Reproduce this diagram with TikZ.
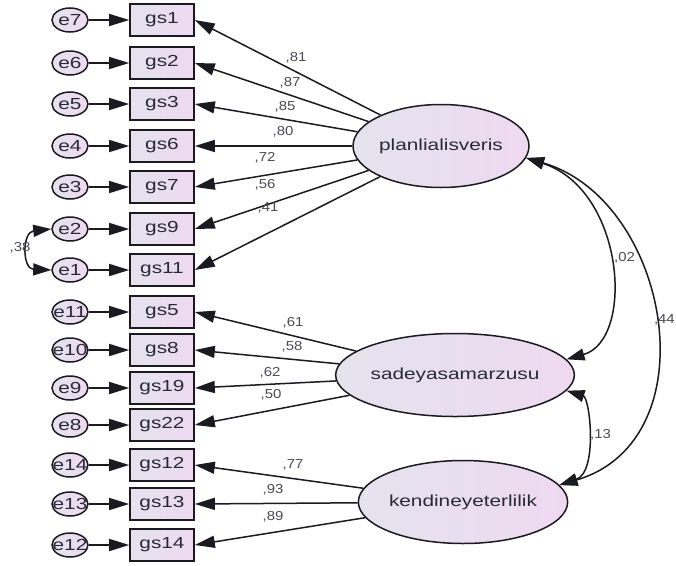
\documentclass[tikz,border=0pt]{standalone}
\usepackage{fontspec}
\setmainfont{Liberation Sans}
\newfontfamily\itemfont[FakeStretch=1.3]{Liberation Sans}
\newfontfamily\coeffont[FakeStretch=1.15]{Liberation Sans}
\usetikzlibrary{arrows.meta,shapes.geometric}

\definecolor{linec}{HTML}{1A1A20}
\definecolor{txtc}{HTML}{2A2A36}
\definecolor{coefc}{HTML}{4A4A55}
\definecolor{fillL}{HTML}{E4E3EE}
\definecolor{fillR}{HTML}{EFD9F1}

\begin{document}
\begin{tikzpicture}[x=1pt,y=-1pt,
  item/.style={draw=linec, line width=1.6pt, left color=fillL, right color=fillR,
    minimum width=64pt, minimum height=32pt, inner sep=0pt,
    font=\itemfont\fontsize{16}{16}\selectfont, text=txtc},
  err/.style={ellipse, draw=linec, line width=1.5pt, left color=fillL, right color=fillR,
    minimum width=36pt, minimum height=24pt, inner sep=0pt,
    font=\itemfont\fontsize{16}{16}\selectfont, text=txtc},
  latent/.style={ellipse, draw=linec, line width=1.5pt, left color=fillL, right color=fillR,
    minimum width=176pt, minimum height=83pt, inner sep=0pt,
    font=\itemfont\fontsize{16}{16}\selectfont, text=txtc},
  coef/.style={font=\coeffont\fontsize{13}{13}\selectfont, text=coefc, inner sep=0pt},
  arr/.style={-{Triangle[length=20pt,width=12pt]}, line width=1.5pt, draw=linec},
  arrtwo/.style={{Triangle[length=18pt,width=12pt]}-{Triangle[length=18pt,width=12pt]}, line width=1.5pt, draw=linec}
]
\useasboundingbox (0,0) rectangle (676,565);

% latent factors
\node[latent] (plan) at (441,146) {planlialisveris};
\node[latent] (sade) at (455,375) {sadeyasamarzusu};
\node[latent] (kend) at (463,502) {kendineyeterlilik};

% observed items
\foreach \n/\y in {gs1/20, gs2/63, gs3/104, gs6/146, gs7/187, gs9/229, gs11/270,
                   gs5/312, gs8/350, gs19/388, gs22/425, gs12/465, gs13/504, gs14/545}
  \node[item] (\n) at (162,\y) {\n};

% error terms (labels may spill over the small circles)
\foreach \e/\g in {e7/gs1, e6/gs2, e5/gs3, e4/gs6, e3/gs7, e2/gs9, e1/gs11,
                   e11/gs5, e10/gs8, e9/gs19, e8/gs22, e14/gs12, e13/gs13, e12/gs14} {
  \node[err] (\e) at (70,0 |- \g) {\makebox[0pt]{\e}};
  \draw[arr] (\e) -- (\g);
}

% loadings
\foreach \g in {gs1,gs2,gs3,gs6,gs7,gs9,gs11} \draw[arr] (plan) -- (\g.east);
\foreach \g in {gs5,gs8,gs19,gs22} \draw[arr] (sade) -- (\g.east);
\foreach \g in {gs12,gs13,gs14} \draw[arr] (kend) -- (\g.east);

\node[coef] (l1) at (296,58) {,81};
\node[coef] (l2) at (290,83) {,87};
\node[coef] (l3) at (285,107) {,85};
\node[coef] (l4) at (283,132) {,80};
\node[coef] (l5) at (265,158) {,72};
\node[coef] (l6) at (265,185) {,56};
\node[coef] (l7) at (268,208) {,41};
\node[coef] (l8) at (293,323) {,61};
\node[coef] (l9) at (292,347) {,58};
\node[coef] (l10) at (270,373) {,62};
\node[coef] (l11) at (271,395) {,50};
\node[coef] (l12) at (293,465) {,77};
\node[coef] (l13) at (273,490) {,93};
\node[coef] (l14) at (273,517) {,89};

% covariances
\draw[arrtwo] (plan.-8) .. controls (625,190) and (635,340) .. (sade.8);
\draw[arrtwo] (plan.-8) .. controls (670,200) and (712,440) .. (kend.10);
\draw[arrtwo] (sade.-8) .. controls (590,398) and (598,472) .. (kend.10);
\draw[arrtwo] (e2.west) .. controls (22,232) and (22,269) .. (e1.west);

\node[coef, anchor=west] (c1) at (614,258) {,02};
\node[coef, anchor=east] (c2) at (675,320) {,44};
\node[coef, anchor=west] (c3) at (590,435) {,13};
\node[coef] (c4) at (20,248) {,38};
\end{tikzpicture}
\end{document}
